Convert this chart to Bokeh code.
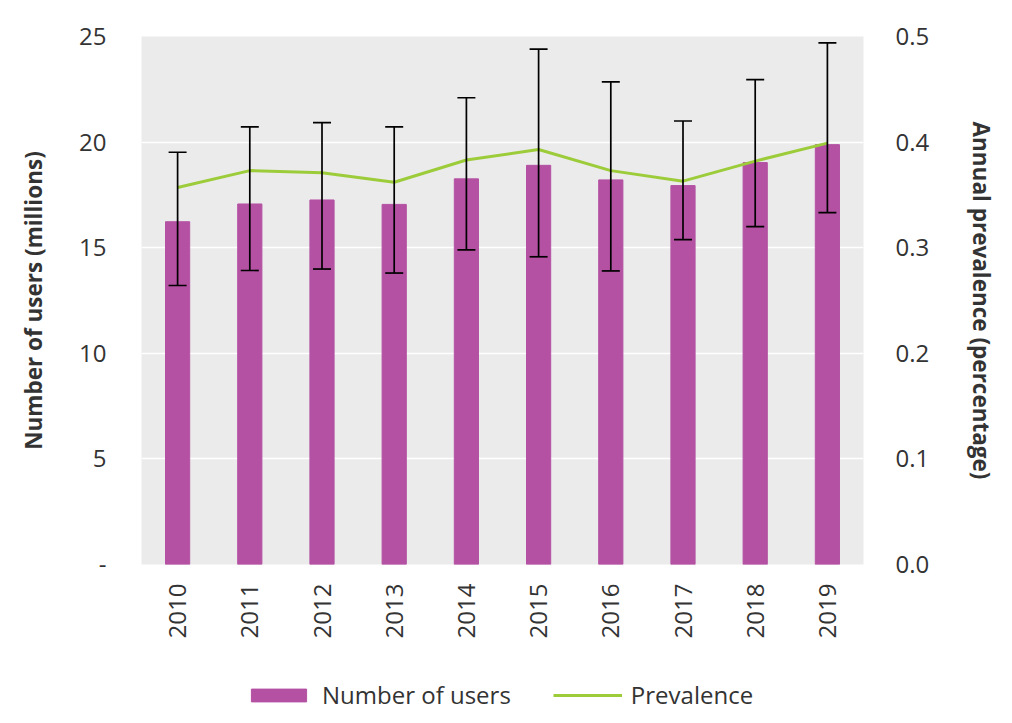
import math
from bokeh.plotting import figure
from bokeh.layouts import column
from bokeh.models import (ColumnDataSource, Range1d, LinearAxis, FixedTicker,
                          Whisker, TeeHead, Legend, LegendItem, NumeralTickFormatter)
from bokeh.embed import file_html
from bokeh.resources import INLINE

years = ["2010", "2011", "2012", "2013", "2014", "2015", "2016", "2017", "2018", "2019"]
users = [16.23, 17.07, 17.26, 17.05, 18.26, 18.90, 18.21, 17.94, 19.03, 19.88]
users_low = [13.21, 13.92, 13.99, 13.80, 14.90, 14.57, 13.90, 15.38, 16.00, 16.66]
users_high = [19.52, 20.72, 20.92, 20.72, 22.10, 24.40, 22.85, 21.00, 22.96, 24.70]
prevalence = [0.357, 0.373, 0.371, 0.362, 0.383, 0.393, 0.373, 0.363, 0.382, 0.399]
left_ticks = [0, 5, 10, 15, 20, 25]
right_ticks = [0.0, 0.1, 0.2, 0.3, 0.4, 0.5]

FONT = "Open Sans"
TXT = "#333333"
BAR = "#b451a3"
LINE = "#9dcc3b"

src = ColumnDataSource(dict(year=years, users=users, low=users_low, high=users_high, prev=prevalence))

W, H1, H2 = 1000, 673, 42
p = figure(x_range=years, y_range=Range1d(0, 25), width=W, height=H1,
           output_backend="svg", toolbar_location=None,
           min_border_left=141, min_border_right=W - 877,
           min_border_top=36, min_border_bottom=H1 - 564)
p.extra_y_ranges = {"prev": Range1d(0, 0.5)}

p.background_fill_color = "#ebebeb"
p.border_fill_color = "white"
p.outline_line_color = None
p.xgrid.grid_line_color = None
p.ygrid.grid_line_color = "white"
p.ygrid.grid_line_width = 1.5
p.ygrid.ticker = FixedTicker(ticks=left_ticks)

p.vbar(x="year", top="users", width=0.335, source=src, fill_color=BAR, line_color=BAR)
p.line(x="year", y="prev", source=src, y_range_name="prev", line_color=LINE, line_width=3)

wh = Whisker(base="year", lower="low", upper="high", source=src, level="annotation",
             line_color="black", line_width=1.7,
             upper_head=TeeHead(size=18, line_color="black", line_width=1.7),
             lower_head=TeeHead(size=18, line_color="black", line_width=1.7))
p.add_layout(wh)

# left axis
ya = p.yaxis[0]
ya.ticker = FixedTicker(ticks=left_ticks)
ya.major_label_overrides = {0: "-"}
ya.axis_label = "Number of users (millions)"
ya.axis_label_text_font = FONT
ya.axis_label_text_font_style = "bold"
ya.axis_label_text_font_size = "22.5px"
ya.axis_label_text_color = TXT
ya.axis_label_standoff = 27
ya.major_label_text_font = FONT
ya.major_label_text_font_size = "24px"
ya.major_label_text_color = TXT
ya.major_label_standoff = 29
ya.axis_line_color = None
ya.major_tick_line_color = None
ya.minor_tick_line_color = None

# right axis
ra = LinearAxis(y_range_name="prev", ticker=FixedTicker(ticks=right_ticks),
                formatter=NumeralTickFormatter(format="0.0"))
ra.axis_label = "Annual prevalence (percentage)"
ra.axis_label_text_font = FONT
ra.axis_label_text_font_style = "bold"
ra.axis_label_text_font_size = "22.5px"
ra.axis_label_text_color = TXT
ra.axis_label_standoff = 34
ra.major_label_text_font = FONT
ra.major_label_text_font_size = "24px"
ra.major_label_text_color = TXT
ra.major_label_standoff = 26
ra.axis_line_color = None
ra.major_tick_line_color = None
ra.minor_tick_line_color = None
p.add_layout(ra, "right")

# x axis
xa = p.xaxis[0]
xa.major_label_orientation = math.pi / 2
xa.major_label_text_font = FONT
xa.major_label_text_font_size = "24px"
xa.major_label_text_color = TXT
xa.major_label_standoff = 13
xa.axis_line_color = None
xa.major_tick_line_color = None
xa.minor_tick_line_color = None

# legend strip (separate small figure so the legend can sit below the axis labels)
lg = figure(x_range=years, y_range=Range1d(0, 25), width=W, height=H2,
            output_backend="svg", toolbar_location=None,
            x_axis_type=None, y_axis_type=None,
            min_border_left=0, min_border_right=0, min_border_top=0, min_border_bottom=0)
lg.outline_line_color = None
lg.grid.visible = False
lg.background_fill_color = "white"
lb = lg.vbar(x="year", top="users", width=0.335, source=src, fill_color=BAR, line_color=BAR, visible=False)
ll = lg.line(x="year", y="users", source=src, line_color=LINE, line_width=3, visible=False)

legend = Legend(items=[LegendItem(label="Number of users", renderers=[lb]),
                       LegendItem(label="Prevalence", renderers=[ll])],
                orientation="horizontal", location=(103, 4),
                glyph_width=69, glyph_height=16, label_standoff=9, spacing=42,
                padding=0, margin=0, border_line_alpha=0, background_fill_alpha=0,
                inactive_fill_alpha=0,
                label_text_font=FONT, label_text_font_size="24px", label_text_color=TXT)
lg.add_layout(legend, "center")

open("out.html", "w").write(file_html(column(p, lg, spacing=0), INLINE))
